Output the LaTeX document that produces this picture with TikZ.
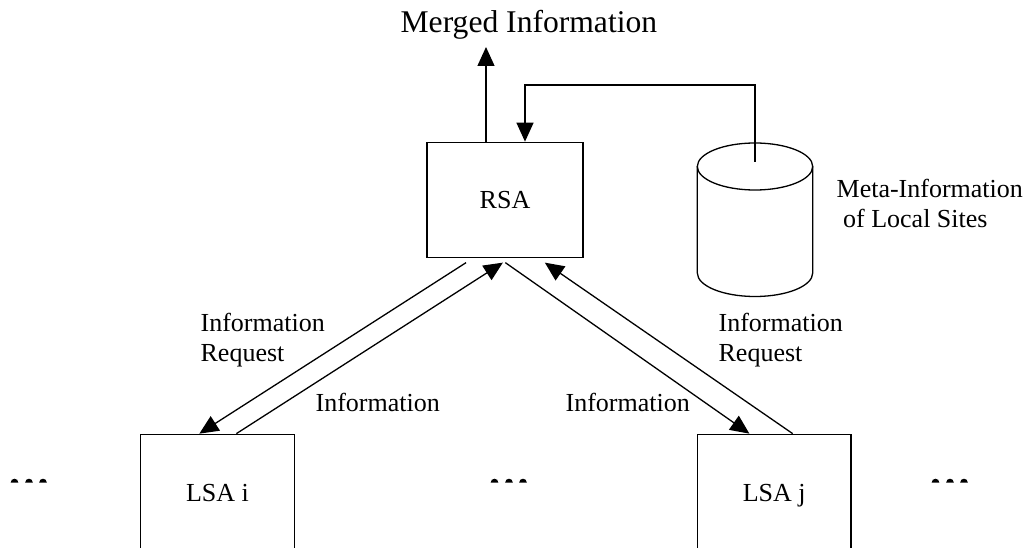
\documentclass[tikz,border=0pt]{standalone}
\usepackage{fontspec}
\setmainfont{Liberation Serif}
\usetikzlibrary{arrows.meta,calc}
\newcommand\lblfont{\fontsize{26}{30.7}\selectfont}
\newcommand\ttlfont{\fontsize{31.6}{38}\selectfont}
\begin{document}
\begin{tikzpicture}[x=1pt,y=-1pt,line width=1.3pt,
  box/.style={draw,line width=1.3pt,inner sep=0pt,font=\lblfont,text height=17.2pt,text depth=0pt},
  arr/.style={-{Triangle[length=19pt,width=17pt]}},
  lbl/.style={font=\lblfont,inner sep=0pt,anchor=base west,align=left},
  halfdot/.style={fill=black}]
\useasboundingbox (0,0) rectangle (1026,548);
\clip (0,0) rectangle (1026,548);
% title
\node[font=\ttlfont,inner sep=0pt,anchor=base west] (title) at (400,33) {Merged Information};
% boxes
\node[box,minimum width=156pt,minimum height=115pt] (rsa) at (505,199.8) {RSA};
\node[box,minimum width=153.6pt,minimum height=117pt] (lsai) at (217.5,492.8) {LSA i};
\node[box,minimum width=153.7pt,minimum height=117pt] (lsaj) at (774.2,492.8) {LSA j};
% database cylinder
\draw (755,166.5) ellipse [x radius=57.7pt,y radius=23.5pt];
\draw (697.3,166.5) -- (697.3,273) arc[start angle=180,end angle=360,x radius=57.7pt,y radius=23.5pt] -- (812.7,166.5);
\coordinate (dbtop) at (755,161.7);
% labels (base anchor = baseline of last line)
\node[lbl] (meta) at (836,228) {Meta-Information\\\ of Local Sites};
\node[lbl] (reqL) at (200,361.7) {Information\\Request};
\node[lbl] (reqR) at (718,361.7) {Information\\Request};
\node[lbl] (infL) at (315,411.7) {Information};
\node[lbl] (infR) at (565,411.7) {Information};
% output arrow
\coordinate (mtip) at (486,47);
\draw[arr] (rsa.north -| mtip) -- (mtip);
% meta-information feed
\coordinate (fbin) at (525,85);
\draw[arr] (dbtop) |- (fbin) -- (rsa.north -| fbin);
% diagonal connectors
\draw[arr] ($(rsa.south west)+(39.7,4.7)$) -- ($(lsai.north west)+(59.3,0)$);
\draw[arr] ($(lsai.north west)+(96.3,0)$) -- ($(rsa.south west)+(76.5,4.7)$);
\draw[arr] ($(rsa.south west)+(79,4.7)$) -- ($(lsaj.north west)+(52.7,0)$);
\draw[arr] ($(lsaj.north west)+(96,0)$) -- ($(rsa.south west)+(118.5,4.7)$);
% ellipsis dots
\foreach \x in {14.5,29,43,494.5,509,523,935.5,950,964}
  \fill[halfdot] ({\x-3.8},482.5) arc[start angle=180,end angle=0,radius=3.8pt] -- cycle;
\end{tikzpicture}
\end{document}
